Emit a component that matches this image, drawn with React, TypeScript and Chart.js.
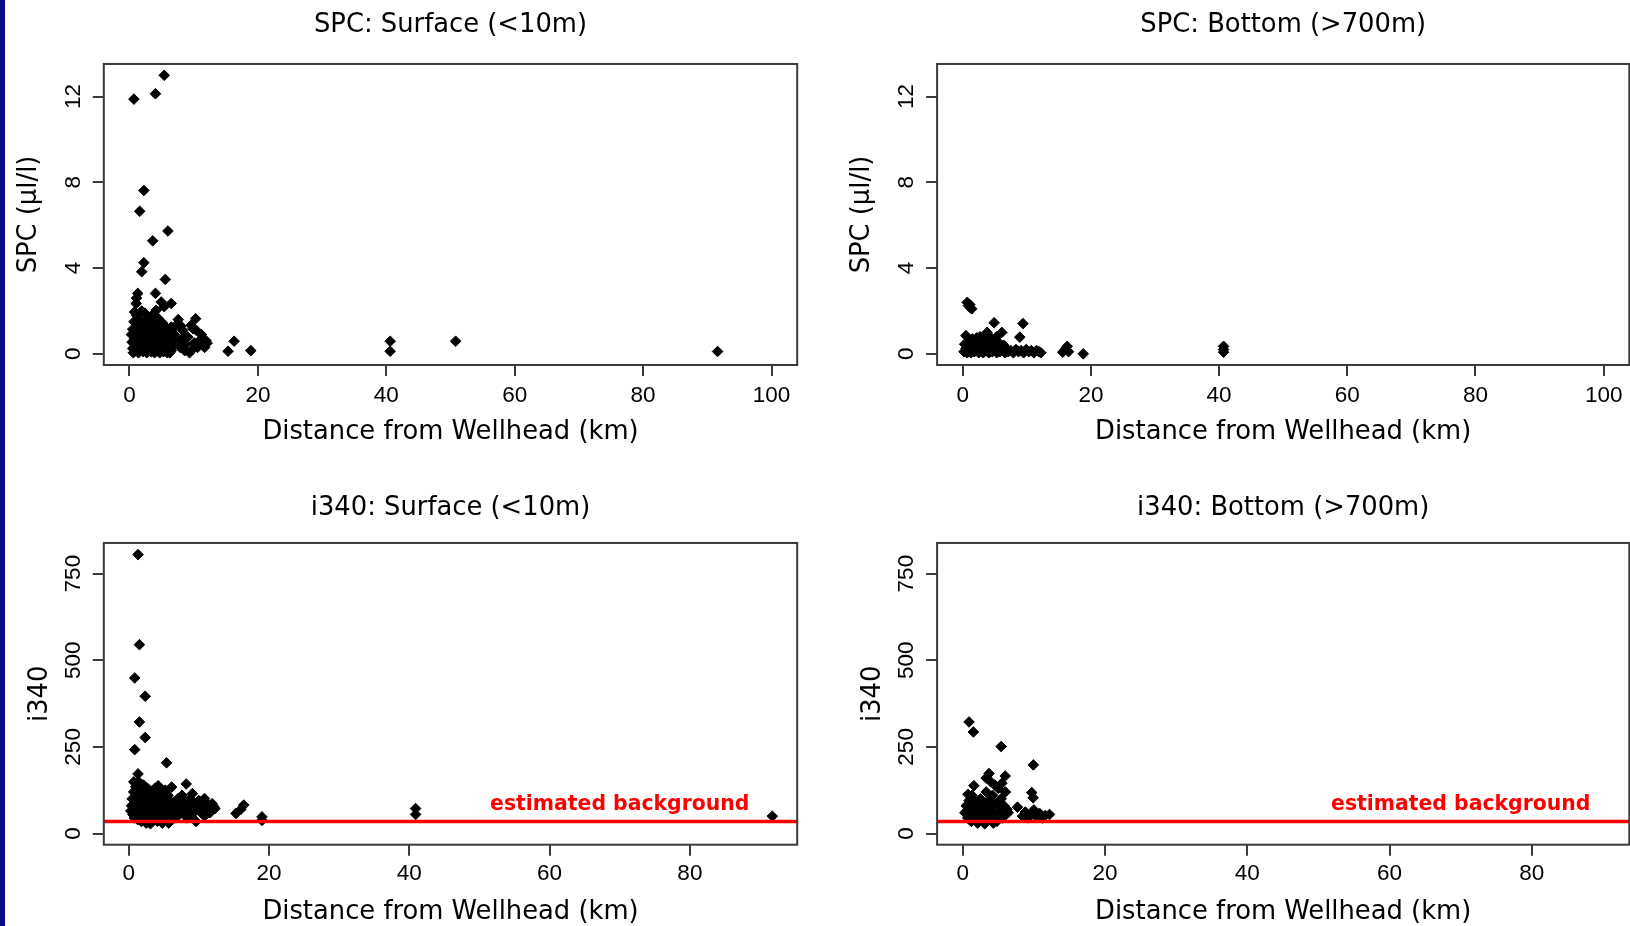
import React, { useEffect, useRef } from "react";
import { Chart, registerables } from "chart.js";

Chart.register(...registerables);

type Pt = [number, number];

// SPC: Surface (<10m) — [distance km, SPC µl/l]
const SPC_SURFACE_POINTS: Pt[] = [
  [0.69, 11.88], [4.04, 12.13], [5.41, 12.99], [2.24, 7.62], [1.59, 6.65],
  [5.99, 5.73], [3.62, 5.27], [2.24, 4.25], [1.91, 3.83], [5.58, 3.47],
  [1.29, 2.82], [1.1, 2.6], [4.05, 2.82], [4.94, 2.42], [5.4, 2.2],
  [6.5, 2.35], [4.15, 2.03], [3.54, 1.8], [1.04, 2.35], [0.78, 1.95],
  [7.6, 1.6], [7.27, 1.33], [8.0, 1.3], [8.3, 1.09], [9.6, 1.33],
  [9.9, 1.17], [10.3, 1.64], [10.4, 1.1], [7.8, 0.62], [7.9, 0.3],
  [8.5, 0.8], [8.8, 0.45], [9.1, 0.78], [9.35, 0.05], [9.8, 0.2],
  [10.1, 0.5], [10.6, 0.3], [10.9, 0.62], [11.2, 0.9], [11.5, 0.4],
  [11.7, 0.3], [11.9, 0.62], [12.1, 0.5], [8.6, 0.15], [7.0, 0.9],
  [6.8, 0.4], [6.5, 0.6], [6.5, 0.15], [6.5, 1.25],
  [15.35, 0.12], [16.3, 0.59], [18.9, 0.15], [40.6, 0.59], [40.6, 0.12],
  [50.8, 0.59], [91.6, 0.11],
  [0.3, 0.9], [0.4, 0.55], [0.5, 1.15], [0.5, 0.25], [0.6, 0.05],
  [0.7, 1.5], [0.8, 0.7], [0.9, 0.15], [1.0, 1.05], [1.1, 1.8],
  [1.2, 0.4], [1.3, 1.3], [1.4, 0.05], [1.5, 0.85], [1.6, 1.6],
  [1.7, 0.3], [1.8, 1.1], [1.9, 2.0], [2.0, 0.6], [2.1, 0.1],
  [2.2, 1.45], [2.3, 0.9], [2.4, 1.9], [2.5, 0.35], [2.6, 1.2],
  [2.7, 0.05], [2.8, 0.75], [2.9, 1.6], [3.0, 0.25], [3.1, 1.05],
  [3.2, 0.5], [3.3, 1.4], [3.4, 0.1], [3.5, 0.8], [3.6, 1.2],
  [3.7, 0.35], [3.8, 1.55], [3.9, 0.05], [4.0, 0.9], [4.1, 0.55],
  [4.2, 1.3], [4.3, 0.2], [4.4, 1.0], [4.5, 1.65], [4.6, 0.45],
  [4.7, 0.05], [4.8, 1.2], [4.9, 0.75], [5.0, 0.3], [5.1, 1.45],
  [5.2, 0.95], [5.3, 0.1], [5.4, 0.6], [5.5, 1.3], [5.6, 0.25],
  [5.7, 1.0], [5.8, 0.5], [5.9, 0.05], [6.0, 0.8], [6.1, 1.15],
  [6.2, 0.35], [6.3, 0.05],
];

// SPC: Bottom (>700m)
const SPC_BOTTOM_POINTS: Pt[] = [
  [0.7, 2.4], [0.9, 2.25], [1.1, 2.3], [1.2, 2.15], [1.4, 2.1],
  [4.9, 1.45], [9.4, 1.41], [3.8, 1.0], [6.1, 1.0], [8.9, 0.78],
  [0.5, 0.85], [1.5, 0.7], [2.2, 0.75], [2.7, 0.8], [3.3, 0.7],
  [4.4, 0.75], [5.3, 0.8],
  [0.2, 0.1], [0.3, 0.45], [0.5, 0.25], [0.7, 0.05], [0.8, 0.55],
  [1.0, 0.2], [1.2, 0.4], [1.3, 0.05], [1.5, 0.3], [1.7, 0.55],
  [1.8, 0.1], [2.0, 0.4], [2.2, 0.2], [2.3, 0.6], [2.5, 0.05],
  [2.7, 0.35], [2.9, 0.15], [3.0, 0.5], [3.2, 0.05], [3.4, 0.3],
  [3.6, 0.6], [3.7, 0.15], [3.9, 0.45], [4.1, 0.05], [4.2, 0.3],
  [4.4, 0.55], [4.6, 0.1], [4.8, 0.4], [5.0, 0.2], [5.1, 0.6],
  [5.3, 0.05], [5.5, 0.35], [5.7, 0.5], [5.8, 0.1], [6.0, 0.3],
  [6.2, 0.15], [6.4, 0.4], [6.6, 0.05], [6.8, 0.2], [7.1, 0.1],
  [7.5, 0.15], [7.9, 0.05], [8.3, 0.2], [8.7, 0.1], [9.1, 0.15],
  [9.5, 0.05], [9.9, 0.2], [10.3, 0.1], [10.7, 0.15], [11.1, 0.05],
  [11.5, 0.15], [11.9, 0.1], [12.2, 0.05],
  [15.6, 0.08], [16.0, 0.2], [16.3, 0.35], [16.5, 0.1], [18.8, 0.0],
  [40.7, 0.35], [40.7, 0.2], [40.7, 0.08],
];

// i340: Surface (<10m)
const I340_SURFACE_POINTS: Pt[] = [
  [1.33, 805], [1.53, 545], [0.86, 449], [2.35, 396], [1.53, 322],
  [2.35, 277], [0.86, 242], [5.4, 204], [1.33, 172], [0.72, 149],
  [4.2, 138], [6.12, 134], [8.2, 143], [9.07, 115], [10.8, 101],
  [11.9, 86], [12.1, 77], [15.3, 58], [16.0, 70], [16.4, 82],
  [19.0, 48], [19.0, 38], [40.9, 72], [40.9, 55], [91.75, 50],
  [0.3, 65], [0.4, 80], [0.5, 100], [0.6, 55], [0.7, 120],
  [0.8, 45], [0.9, 90], [1.0, 135], [1.1, 70], [1.2, 110],
  [1.3, 40], [1.4, 150], [1.5, 85], [1.6, 60], [1.7, 125],
  [1.8, 35], [1.9, 100], [2.0, 75], [2.1, 140], [2.2, 50],
  [2.3, 115], [2.4, 90], [2.5, 30], [2.6, 65], [2.7, 130],
  [2.8, 80], [2.9, 45], [3.0, 105], [3.1, 28], [3.2, 70],
  [3.3, 120], [3.4, 55], [3.5, 95], [3.6, 40], [3.7, 130],
  [3.8, 75], [3.9, 60], [4.0, 110], [4.1, 35], [4.3, 85],
  [4.4, 65], [4.5, 120], [4.6, 45], [4.7, 95], [4.8, 30],
  [4.9, 75], [5.0, 105], [5.1, 55], [5.2, 125], [5.3, 40],
  [5.4, 85], [5.5, 65], [5.6, 110], [5.7, 30], [5.8, 95],
  [5.9, 50], [6.0, 75], [6.2, 60], [6.4, 90], [6.6, 45],
  [6.8, 70], [7.0, 100], [7.2, 55],
  [7.4, 80], [7.6, 110], [7.8, 60], [8.0, 90], [8.3, 45],
  [8.5, 75], [8.8, 100], [9.0, 55], [9.3, 85], [9.6, 35],
  [9.8, 70], [10.0, 95], [10.3, 60], [10.5, 80], [10.8, 50],
  [11.0, 90], [11.3, 70], [11.6, 60], [12.0, 80], [12.3, 72],
];

// i340: Bottom (>700m)
const I340_BOTTOM_POINTS: Pt[] = [
  [0.89, 322], [1.5, 293], [5.4, 251], [9.93, 198], [3.7, 173],
  [5.97, 166], [1.57, 138], [0.75, 113], [9.7, 118], [9.9, 103],
  [7.7, 76], [12.2, 55], [3.3, 160], [5.5, 145], [3.9, 150],
  [6.0, 120], [4.5, 140],
  [0.3, 60], [0.5, 80], [0.7, 45], [0.9, 95], [1.0, 65],
  [1.2, 35], [1.3, 110], [1.5, 75], [1.7, 50], [1.9, 90],
  [2.1, 30], [2.3, 70], [2.5, 100], [2.7, 45], [2.9, 80],
  [3.1, 28], [3.3, 120], [3.4, 60], [3.6, 95], [3.8, 40],
  [4.0, 75], [4.2, 110], [4.4, 55], [4.6, 85], [4.8, 35],
  [5.0, 130], [5.2, 65], [5.4, 100], [5.6, 45], [5.8, 80],
  [6.0, 55], [6.2, 70], [6.4, 60], [2.0, 55], [3.0, 65],
  [4.3, 30], [5.5, 75],
  [8.4, 50], [8.8, 62], [9.2, 45], [9.6, 55], [10.0, 68],
  [10.4, 48], [10.8, 58], [11.2, 45], [11.6, 52],
];

const SPC_X_TICKS = [0, 20, 40, 60, 80, 100];
const SPC_Y_TICKS = [0, 4, 8, 12];
const I340_X_TICKS = [0, 20, 40, 60, 80];
const I340_Y_TICKS = [0, 250, 500, 750];

const SPC_X_RANGE: [number, number] = [-4, 104];
const SPC_Y_RANGE: [number, number] = [-0.52, 13.52];
const I340_SURFACE_X_RANGE: [number, number] = [-3.55, 95.3];
const I340_BOTTOM_X_RANGE: [number, number] = [-3.6, 93.7];
const I340_Y_RANGE: [number, number] = [-32.3, 838.5];

const I340_BACKGROUND = 35;
const BACKGROUND_LABEL = "estimated background";
const BACKGROUND_LABEL_X = 70;
const BACKGROUND_LABEL_Y = 82;

const X_LABEL = "Distance from Wellhead (km)";
const SPC_Y_LABEL = "SPC (\u00b5l/l)";
const I340_Y_LABEL = "i340";

const LABEL_FONT = "'DejaVu Sans', sans-serif";
const TICK_FONT = "'Liberation Sans', Arial, sans-serif";
const AXIS_COLOR = "#3a3a3a";

type Geom = {
  left: number; top: number; width: number; height: number;
  yAxisWidth: number; padRight: number;
  titleTop: number; titleBottom: number;
  xAxisHeight: number; xTickPad: number;
  yTickPad: number; yTitlePad: number;
};

type PanelCfg = {
  title: string; yLabel: string; points: Pt[];
  xTicks: number[]; yTicks: number[];
  xRange: [number, number]; yRange: [number, number];
  background: number | null;
  geom: Geom;
};

const boxPlugin = {
  id: "rbox",
  afterDraw(chart: any) {
    const { ctx, chartArea: a } = chart;
    ctx.save();
    ctx.strokeStyle = AXIS_COLOR;
    ctx.lineWidth = 2;
    ctx.strokeRect(a.left, a.top, a.right - a.left, a.bottom - a.top);
    ctx.restore();
  },
};

const bgLabelPlugin = {
  id: "bgLabel",
  afterDatasetsDraw(chart: any, _args: any, opts: any) {
    if (!opts || !opts.text) return;
    const { ctx } = chart;
    const x = chart.scales.x.getPixelForValue(opts.x);
    const y = chart.scales.y.getPixelForValue(opts.y);
    ctx.save();
    ctx.font = `bold 20.4px ${LABEL_FONT}`;
    ctx.fillStyle = "#ff0000";
    ctx.textAlign = "center";
    ctx.textBaseline = "middle";
    ctx.fillText(opts.text, x, y);
    ctx.restore();
  },
};

function Panel({ cfg }: { cfg: PanelCfg }) {
  const ref = useRef<HTMLCanvasElement>(null);
  const g = cfg.geom;
  useEffect(() => {
    const canvas = ref.current;
    if (!canvas) return;
    const datasets: any[] = [
      {
        data: cfg.points.map(([x, y]) => ({ x, y })),
        pointStyle: "rectRot",
        pointRadius: 5.3,
        pointBorderWidth: 1,
        backgroundColor: "#000",
        borderColor: "#000",
        showLine: false,
        order: 1,
      },
    ];
    if (cfg.background !== null) {
      datasets.push({
        data: [
          { x: cfg.xRange[0], y: cfg.background },
          { x: cfg.xRange[1], y: cfg.background },
        ],
        showLine: true,
        borderColor: "#ff0000",
        backgroundColor: "#ff0000",
        borderWidth: 3.5,
        pointRadius: 0,
        order: 0,
      });
    }
    const chart = new Chart(canvas, {
      type: "scatter",
      data: { datasets },
      options: {
        responsive: false,
        animation: false,
        devicePixelRatio: 1,
        events: [],
        layout: { padding: { left: 0, right: g.padRight, top: 0, bottom: 0 } },
        plugins: {
          legend: { display: false },
          tooltip: { enabled: false },
          title: {
            display: true,
            text: cfg.title,
            fullSize: false,
            color: "#000",
            font: { family: LABEL_FONT, size: 25.8, weight: "normal" },
            padding: { top: g.titleTop, bottom: g.titleBottom },
          },
          bgLabel:
            cfg.background !== null
              ? { text: BACKGROUND_LABEL, x: BACKGROUND_LABEL_X, y: BACKGROUND_LABEL_Y }
              : false,
        } as any,
        scales: {
          x: {
            type: "linear",
            position: "bottom",
            min: cfg.xRange[0],
            max: cfg.xRange[1],
            afterBuildTicks: (s: any) => {
              s.ticks = cfg.xTicks.map((v) => ({ value: v }));
            },
            afterFit: (s: any) => {
              s.height = g.xAxisHeight;
            },
            grid: {
              drawOnChartArea: false,
              drawTicks: true,
              tickLength: 11,
              color: AXIS_COLOR,
              lineWidth: 2,
            },
            border: { display: false },
            ticks: {
              color: "#000",
              font: { family: TICK_FONT, size: 22.5 },
              padding: g.xTickPad,
              minRotation: 0,
              maxRotation: 0,
              autoSkip: false,
            },
            title: {
              display: true,
              text: X_LABEL,
              color: "#000",
              font: { family: LABEL_FONT, size: 25.8 },
              padding: { top: 0, bottom: 12.5 },
            },
          },
          y: {
            type: "linear",
            position: "left",
            min: cfg.yRange[0],
            max: cfg.yRange[1],
            afterBuildTicks: (s: any) => {
              s.ticks = cfg.yTicks.map((v) => ({ value: v }));
            },
            afterFit: (s: any) => {
              s.width = g.yAxisWidth;
            },
            grid: {
              drawOnChartArea: false,
              drawTicks: true,
              tickLength: 11,
              color: AXIS_COLOR,
              lineWidth: 2,
            },
            border: { display: false },
            ticks: {
              color: "#000",
              font: { family: TICK_FONT, size: 22.5 },
              padding: g.yTickPad,
              minRotation: 90,
              maxRotation: 90,
              crossAlign: "center",
              autoSkip: false,
            },
            title: {
              display: true,
              text: cfg.yLabel,
              color: "#000",
              font: { family: LABEL_FONT, size: 25.8 },
              padding: { top: g.yTitlePad, bottom: 0 },
            },
          },
        },
      } as any,
      plugins: [boxPlugin, bgLabelPlugin],
    });
    return () => chart.destroy();
  }, []);
  return (
    <canvas
      ref={ref}
      width={g.width}
      height={g.height}
      style={{ position: "absolute", left: g.left, top: g.top, width: g.width, height: g.height }}
    />
  );
}

const TOP_GEOM = { top: 0, height: 460, titleTop: 9.5, titleBottom: 23.5, xAxisHeight: 95, xTickPad: 6, yTickPad: 6.8, yTitlePad: 13.7 };
const BOTTOM_GEOM = { top: 460, height: 480, titleTop: 32.8, titleBottom: 19.2, xAxisHeight: 95.3, xTickPad: 4.8, yTickPad: 0.6, yTitlePad: 24.8 };
const LEFT_GEOM = { left: 0, width: 815, yAxisWidth: 103.8, padRight: 17.8 };
const RIGHT_GEOM = { left: 833, width: 815, yAxisWidth: 104.1, padRight: 18.7 };

const PANELS: PanelCfg[] = [
  {
    title: "SPC: Surface (<10m)", yLabel: SPC_Y_LABEL, points: SPC_SURFACE_POINTS,
    xTicks: SPC_X_TICKS, yTicks: SPC_Y_TICKS, xRange: SPC_X_RANGE, yRange: SPC_Y_RANGE,
    background: null, geom: { ...TOP_GEOM, ...LEFT_GEOM },
  },
  {
    title: "SPC: Bottom (>700m)", yLabel: SPC_Y_LABEL, points: SPC_BOTTOM_POINTS,
    xTicks: SPC_X_TICKS, yTicks: SPC_Y_TICKS, xRange: SPC_X_RANGE, yRange: SPC_Y_RANGE,
    background: null, geom: { ...TOP_GEOM, ...RIGHT_GEOM },
  },
  {
    title: "i340: Surface (<10m)", yLabel: I340_Y_LABEL, points: I340_SURFACE_POINTS,
    xTicks: I340_X_TICKS, yTicks: I340_Y_TICKS, xRange: I340_SURFACE_X_RANGE, yRange: I340_Y_RANGE,
    background: I340_BACKGROUND, geom: { ...BOTTOM_GEOM, ...LEFT_GEOM },
  },
  {
    title: "i340: Bottom (>700m)", yLabel: I340_Y_LABEL, points: I340_BOTTOM_POINTS,
    xTicks: I340_X_TICKS, yTicks: I340_Y_TICKS, xRange: I340_BOTTOM_X_RANGE, yRange: I340_Y_RANGE,
    background: I340_BACKGROUND, geom: { ...BOTTOM_GEOM, ...RIGHT_GEOM },
  },
];

export default function App() {
  return (
    <div
      style={{
        position: "fixed", left: 0, top: 0, width: 1630, height: 926,
        overflow: "hidden", background: "#ffffff",
      }}
    >
      {PANELS.map((p, i) => (
        <Panel key={i} cfg={p} />
      ))}
      <div
        style={{
          position: "absolute", left: 0, top: 0, width: 5, height: 926,
          background: "#0b0b87", zIndex: 2,
        }}
      />
    </div>
  );
}
